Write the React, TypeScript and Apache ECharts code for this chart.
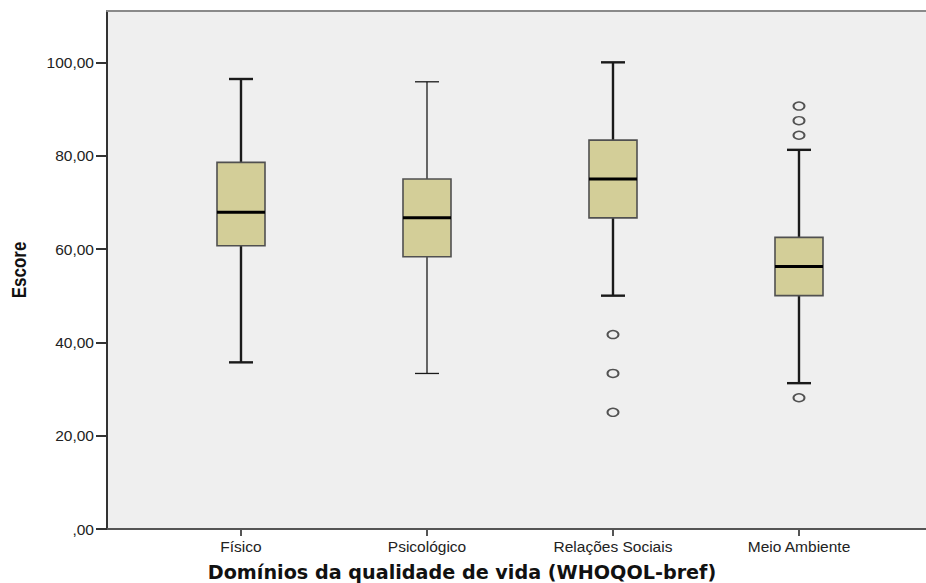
import React, { useEffect, useRef } from "react";
import * as echarts from "echarts";

// Categories (WHOQOL-bref domains)
const categories = ["Físico", "Psicológico", "Relações Sociais", "Meio Ambiente"];
// Boxplot statistics per domain
const whiskerLow = [35.71, 33.33, 50.0, 31.25];
const quartile1 = [60.71, 58.33, 66.67, 50.0];
const medians = [67.86, 66.67, 75.0, 56.25];
const quartile3 = [78.57, 75.0, 83.33, 62.5];
const whiskerHigh = [96.43, 95.83, 100.0, 81.25];
// Outliers: category index and value
const outlierCategory = [2, 2, 2, 3, 3, 3, 3];
const outlierValue = [41.67, 33.33, 25.0, 90.63, 87.5, 84.38, 28.13];
// Y tick values
const yTicks = [0, 20, 40, 60, 80, 100];

const WHISKER_WIDTHS = [2.4, 1.3, 2.4, 2.4];
const FONT = "'Liberation Sans', Arial, sans-serif";

export default function App() {
  const ref = useRef<HTMLDivElement>(null);
  useEffect(() => {
    if (!ref.current) return;
    const chart = echarts.init(ref.current, undefined, { renderer: "svg" });
    const boxData = categories.map((_, i) => [
      i + 1,
      whiskerLow[i],
      quartile1[i],
      medians[i],
      quartile3[i],
      whiskerHigh[i],
    ]);
    const outlierData = outlierValue.map((v, k) => [outlierCategory[k] + 1, v]);

    const option: any = {
      animation: false,
      backgroundColor: "#ffffff",
      grid: {
        left: 107,
        top: 11,
        right: -4,
        bottom: 54,
        outerBoundsMode: "none",
        containLabel: false,
        show: true,
        backgroundColor: "#efefef",
        borderWidth: 0,
      },
      xAxis: [
        {
          type: "value",
          min: 0.2796,
          max: 0.2796 + 823 / 186,
          splitLine: { show: false },
          axisLine: { show: true, lineStyle: { color: "#555", width: 2 } },
          axisTick: {
            show: true,
            customValues: [1, 2, 3, 4],
            length: 7,
            lineStyle: { color: "#555", width: 2 },
          },
          axisLabel: {
            customValues: [1, 2, 3, 4],
            formatter: (v: number) => categories[Math.round(v) - 1] ?? "",
            margin: 9,
            fontSize: 15.5,
            fontFamily: FONT,
            color: "#222",
          },
        },
        {
          type: "value",
          position: "top",
          min: 0,
          max: 1,
          splitLine: { show: false },
          axisLine: { show: true, lineStyle: { color: "#8a8a8a", width: 2 } },
          axisTick: { show: false },
          axisLabel: { show: false },
        },
      ],
      yAxis: {
        type: "value",
        min: 0,
        max: 111,
        interval: 20,
        splitLine: { show: false },
        axisLine: { show: true, lineStyle: { color: "#333", width: 2 } },
        axisTick: {
          show: true,
          customValues: yTicks,
          length: 11,
          lineStyle: { color: "#333", width: 2 },
        },
        axisLabel: {
          customValues: yTicks,
          formatter: (v: number) =>
            v === 0 ? ",00" : v.toFixed(2).replace(".", ","),
          margin: 13,
          fontSize: 15.5,
          fontFamily: FONT,
          color: "#222",
        },
      },
      graphic: [
        {
          type: "text",
          x: 19,
          y: 270,
          rotation: Math.PI / 2,
          scaleY: 1.2,
          style: {
            text: "Escore",
            fontSize: 17,
            fontWeight: "bold",
            fontFamily: FONT,
            fill: "#111",
            textAlign: "center",
            textVerticalAlign: "middle",
          },
        },
        {
          type: "text",
          x: 462,
          y: 572,
          style: {
            text: "Domínios da qualidade de vida (WHOQOL-bref)",
            fontSize: 19.2,
            fontWeight: "bold",
            fontFamily: "'DejaVu Sans', Verdana, sans-serif",
            fill: "#111",
            textAlign: "center",
            textVerticalAlign: "middle",
          },
        },
      ],
      series: [
        {
          type: "custom",
          data: boxData,
          encode: { x: 0, y: [1, 2, 3, 4, 5] },
          z: 3,
          renderItem: (params: any, api: any) => {
            const idx = params.dataIndex;
            const xv = api.value(0);
            const pLow = api.coord([xv, api.value(1)]);
            const pQ1 = api.coord([xv, api.value(2)]);
            const pMed = api.coord([xv, api.value(3)]);
            const pQ3 = api.coord([xv, api.value(4)]);
            const pHigh = api.coord([xv, api.value(5)]);
            const cx = pLow[0];
            const halfBox = 24;
            const halfCap = 12;
            const ww = WHISKER_WIDTHS[idx] ?? 2;
            const wStyle = { stroke: "#1a1a1a", lineWidth: ww };
            return {
              type: "group",
              children: [
                {
                  type: "line",
                  shape: { x1: cx, y1: pHigh[1], x2: cx, y2: pQ3[1] },
                  style: wStyle,
                },
                {
                  type: "line",
                  shape: { x1: cx, y1: pQ1[1], x2: cx, y2: pLow[1] },
                  style: wStyle,
                },
                {
                  type: "line",
                  shape: { x1: cx - halfCap, y1: pHigh[1], x2: cx + halfCap, y2: pHigh[1] },
                  style: wStyle,
                },
                {
                  type: "line",
                  shape: { x1: cx - halfCap, y1: pLow[1], x2: cx + halfCap, y2: pLow[1] },
                  style: wStyle,
                },
                {
                  type: "rect",
                  shape: {
                    x: cx - halfBox,
                    y: pQ3[1],
                    width: halfBox * 2,
                    height: pQ1[1] - pQ3[1],
                  },
                  style: { fill: "#d3ce98", stroke: "#505050", lineWidth: 1.6 },
                },
                {
                  type: "line",
                  shape: { x1: cx - halfBox, y1: pMed[1], x2: cx + halfBox, y2: pMed[1] },
                  style: { stroke: "#000", lineWidth: 3 },
                },
              ],
            };
          },
        },
        {
          type: "scatter",
          data: outlierData,
          symbol: "circle",
          symbolSize: [11, 8],
          z: 4,
          itemStyle: { color: "#efefef", borderColor: "#2a2a2a", borderWidth: 1.7 },
        },
      ],
    };
    chart.setOption(option);
    return () => chart.dispose();
  }, []);
  return (
    <div
      ref={ref}
      style={{ position: "fixed", left: 0, top: 0, width: 926, height: 583 }}
    />
  );
}
